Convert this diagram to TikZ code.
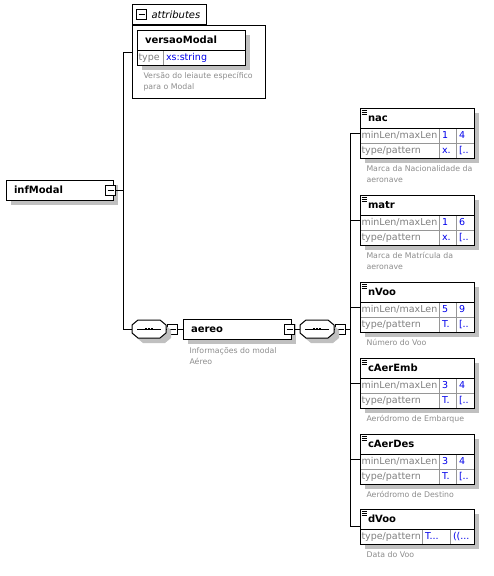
\documentclass[tikz,border=0pt]{standalone}
\usepackage{fontspec}
\setmainfont{DejaVu Sans}
\usepackage{xcolor}
\usepackage{tikz}
\usetikzlibrary{positioning, calc, shadows}

\definecolor{lblgray}{RGB}{128,128,128}
\definecolor{dscgray}{RGB}{140,140,140}
\definecolor{valblue}{RGB}{0,0,235}
\definecolor{shdgray}{RGB}{192,192,192}
\definecolor{cellline}{RGB}{150,150,150}

\tikzset{
  shd/.style={drop shadow={shadow xshift=5pt, shadow yshift=-5pt, fill=shdgray, opacity=1}},
  namebox/.style={draw, fill=white, shd, outer sep=0pt, minimum height=20pt, inner xsep=8pt, inner ysep=0pt,
    align=left, text height=7.5pt, text depth=1.5pt, font=\fontsize{10}{12}\selectfont\bfseries, anchor=north west},
  lblcell/.style={draw=cellline, fill=white, shd, outer sep=0pt, minimum height=15pt, inner xsep=1.5pt, inner ysep=0pt,
    align=left, text height=7.5pt, text depth=2pt, text=lblgray, font=\fontsize{9.5}{11}\selectfont},
  valcell/.style={lblcell, inner xsep=3pt, text=valblue},
  minusbox/.style={draw, fill=white, minimum size=10pt, inner sep=0pt,
    path picture={\draw ([xshift=2pt]path picture bounding box.west) -- ([xshift=-2pt]path picture bounding box.east);}},
  seqbox/.style={outer sep=0pt, minimum width=34pt, minimum height=18pt, inner sep=0pt},
  octo/.style={draw, fill=white, shd},
  dsc/.style={anchor=north west, inner sep=0pt, align=left, text=dscgray, font=\fontsize{7.8}{11}\selectfont},
  icon/.style={line width=0.8pt}
}

\begin{document}
\begin{tikzpicture}[x=1pt,y=1pt,yscale=-1,xscale=1,line width=1pt]
\useasboundingbox (0,0) rectangle (494,576);

%Shape: attributes group
\node[draw, minimum width=133pt, minimum height=73pt, anchor=north west] (attrs) at (132,25) {};
\node[draw, fill=white, minimum width=74pt, minimum height=20pt, anchor=south west] (attrtab) at (attrs.north west) {};
\node[minusbox, right=4pt of attrtab.west] (attrtab-m) {};
\node[right=4pt of attrtab-m, inner sep=0pt, font=\fontsize{10}{12}\selectfont\itshape] (attrtab-t) {attributes};

%Shape: versaoModal
\node[namebox, text width=92pt] (versaoModal) at (137,30) {versaoModal};
\node[lblcell, text width=23pt, below right=0pt and 0pt of versaoModal.south west] (versaoModal-r1) {type};
\node[valcell, text width=76pt, right=0pt of versaoModal-r1] (versaoModal-r1a) {xs:string};
\draw (versaoModal.north west) rectangle (versaoModal-r1a.south east);
\draw (versaoModal.south west) -- (versaoModal.south east);
% Text Node
\node[dsc] (versaoModal-d) at ($(versaoModal-r1.south west)+(6,7)$) {Versão do leiaute específico\\para o Modal};

%Shape: infModal
\node[namebox, text width=91pt] (infModal) at (6,180) {infModal};
\node[minusbox, left=-3pt of infModal.east] (infModal-m) {};

%Shape: sequence, aereo, sequence
\node[seqbox] (seq1) at (149,329) {};
\node[minusbox, right=1pt of seq1] (seq1-m) {};
\node[namebox, text width=92pt, right=5pt of seq1-m] (aereo) {aereo};
\node[minusbox, left=-4pt of aereo.east] (aereo-m) {};
\node[seqbox, right=5pt of aereo-m] (seq2) {};
\node[minusbox, right=1pt of seq2] (seq2-m) {};
\foreach \s in {seq1,seq2} {
  \draw[octo] ($(\s.west)+(0,-4)$) -- ($(\s.north west)+(6,0)$) -- ($(\s.north east)+(-6,0)$) -- ($(\s.east)+(0,-4)$)
    -- ($(\s.east)+(0,4)$) -- ($(\s.south east)+(-6,0)$) -- ($(\s.south west)+(6,0)$) -- ($(\s.west)+(0,4)$) -- cycle;
  \draw ($(\s.west)+(5,0)$) -- ($(\s.east)+(-5,0)$);
  \foreach \dx in {-3,0,3} \fill ($(\s.center)+(\dx-1.2,-1.2)$) rectangle ++(2.4,2.4);
}
% Text Node
\node[dsc] (aereo-d) at ($(aereo.south west)+(6,8)$) {Informações do modal\\Aéreo};

%Straight Lines
\coordinate (spineL) at (123,52);
\coordinate (spineR) at (350,0);
\draw (infModal-m.east) -- (infModal-m.east -| spineL);
\draw (attrs.west |- spineL) -- (spineL) |- (seq1.west);
\draw (seq1.east) -- (seq1-m.west);
\draw (seq1-m.east) -- (aereo.west);
\draw (aereo-m.east) -- (seq2.west);
\draw (seq2.east) -- (seq2-m.west);
\draw (seq2-m.east) -- (seq2-m.east -| spineR);

%Shape: children of aereo
\foreach \nm/\ty/\va/\vb/\vc/\vd/\txt in {
  nac/108/1/4/x./{[..}/{Marca da Nacionalidade da\\aeronave},
  matr/195/1/6/x./{[..}/{Marca de Matrícula da\\aeronave},
  nVoo/282/5/9/T./{[..}/{Número do Voo},
  cAerEmb/358/3/4/T./{[..}/{Aeródromo de Embarque},
  cAerDes/434/3/4/T./{[..}/{Aeródromo de Destino}}
{
  \node[namebox, text width=98pt] (\nm) at (360,\ty) {\nm};
  \node[lblcell, text width=76pt, below right=0pt and 0pt of \nm.south west] (\nm-r1) {minLen/maxLen};
  \node[valcell, text width=11pt, right=0pt of \nm-r1] (\nm-r1a) {\va};
  \node[valcell, text width=12pt, right=0pt of \nm-r1a] (\nm-r1b) {\vb};
  \node[lblcell, text width=76pt, below right=0pt and 0pt of \nm-r1.south west] (\nm-r2) {type/pattern};
  \node[valcell, text width=11pt, right=0pt of \nm-r2] (\nm-r2a) {\vc};
  \node[valcell, text width=12pt, right=0pt of \nm-r2a] (\nm-r2b) {\vd};
  \draw (\nm.north west) rectangle (\nm-r2b.south east);
  \draw (\nm.south west) -- (\nm.south east);
  \foreach \k in {2,4,6} \draw[icon] ($(\nm.north west)+(1.5,\k)$) -- ++(5,0);
  \node[dsc] (\nm-d) at ($(\nm-r2.south west)+(6,7)$) {\txt};
  \coordinate (\nm-in) at ($(\nm.north west)!0.5!(\nm-r2.south west)$);
  \draw (\nm-in) -- (\nm-in -| spineR);
}

%Shape: dVoo
\node[namebox, text width=98pt] (dVoo) at (360,509) {dVoo};
\node[lblcell, text width=59pt, below right=0pt and 0pt of dVoo.south west] (dVoo-r1) {type/pattern};
\node[valcell, text width=22pt, right=0pt of dVoo-r1] (dVoo-r1a) {T...};
\node[valcell, text width=18pt, right=0pt of dVoo-r1a] (dVoo-r1b) {((...};
\draw (dVoo.north west) rectangle (dVoo-r1b.south east);
\draw (dVoo.south west) -- (dVoo.south east);
\foreach \k in {2,4,6} \draw[icon] ($(dVoo.north west)+(1.5,\k)$) -- ++(5,0);
\node[dsc] (dVoo-d) at ($(dVoo-r1.south west)+(6,7)$) {Data do Voo};
\coordinate (dVoo-in) at ($(dVoo.north west)!0.5!(dVoo-r1.south west)$);
\draw (dVoo-in) -- (dVoo-in -| spineR);

%Straight Lines
\draw (spineR |- nac-in) -- (spineR |- dVoo-in);

\end{tikzpicture}
\end{document}
